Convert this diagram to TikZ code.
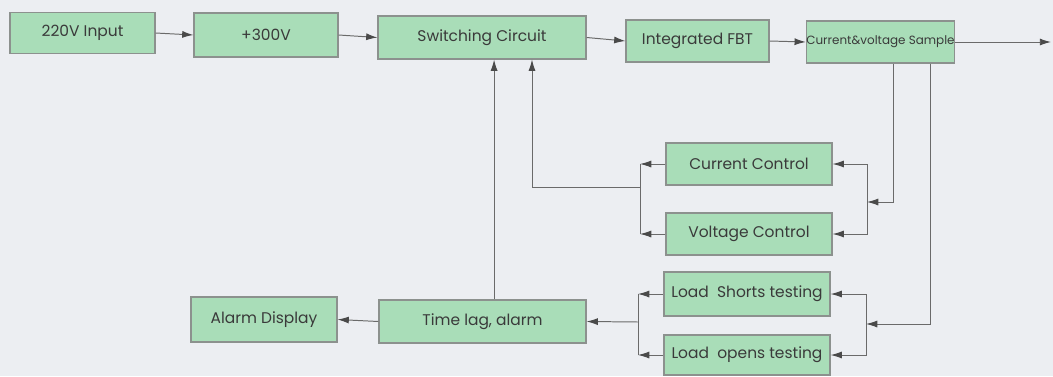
\documentclass[tikz,border=0pt]{standalone}
\usepackage{fontspec}
\setmainfont{Poppins}
\usetikzlibrary{arrows.meta}
\definecolor{bgpaper}{HTML}{ECEEF2}
\definecolor{boxfill}{HTML}{A9DDB8}
\definecolor{boxline}{HTML}{8C918E}
\definecolor{wire}{HTML}{6A6A6A}
\definecolor{tipink}{HTML}{4A4A4A}
\definecolor{ink}{HTML}{3A3A3A}
\tikzset{
    block/.style={draw=boxline, fill=boxfill, line width=0.8pt, inner sep=0pt,
        text=ink, font=\fontsize{11}{12}\selectfont},
    wireline/.style={draw=wire, line width=0.7pt},
    arr/.style={wireline, -{Latex[length=8pt,width=5pt,color=tipink,fill=tipink]}}
}
\begin{document}
\begin{tikzpicture}[x=0.025cm, y=-0.025cm]
            \path[fill=bgpaper, use as bounding box]
                (0, 0) rectangle (1053, 376);
            % top row
            \node[block, minimum width=3.625cm, minimum height=1.025cm] (inp) at (82.5, 33) {220V Input};
            \node[block, minimum width=3.6cm, minimum height=1.1cm] (dc) at (266, 35) {+300V};
            \node[block, minimum width=5.2cm, minimum height=1.075cm] (sw) at (482, 37.5) {Switching Circuit};
            \node[block, minimum width=3.575cm, minimum height=1.05cm] (fbt) at (697.5, 41) {Integrated FBT};
            \node[block, minimum width=3.575cm, minimum height=1.05cm, font=\fontsize{8.5}{10}\selectfont] (smp) at (880.5, 42) {Current\&voltage Sample};
            \coordinate (out) at (1051, 42);
            % control blocks
            \node[block, minimum width=4.15cm, minimum height=1.05cm] (cc) at (749, 164) {Current Control};
            \node[block, minimum width=4.15cm, minimum height=1.05cm] (vc) at (749, 234) {Voltage Control};
            \node[block, minimum width=4.15cm, minimum height=1.1cm] (ls) at (747, 294) {Load\ \ Shorts testing};
            \node[block, minimum width=4.15cm, minimum height=1.0cm] (lo) at (747, 355) {Load\ \ opens testing};
            \node[block, minimum width=5.175cm, minimum height=1.075cm] (tl) at (482.5, 321.5) {Time lag, alarm};
            \node[block, minimum width=3.65cm, minimum height=1.125cm] (ad) at (264, 319.5) {Alarm Display};
            % bends
            \coordinate (s1) at (893, 0);
            \coordinate (s2) at (930, 0);
            \coordinate (j1) at (867, 202);
            \coordinate (j2) at (640, 187);
            \coordinate (f1) at (532, 187);
            \coordinate (j3) at (866, 324);
            \coordinate (j4) at (638, 322);
            % forward path
            \draw[arr] (inp.east) -- (dc.west);
            \draw[arr] (dc.east) -- (sw.west);
            \draw[arr] (sw.east) -- (fbt.west);
            \draw[arr] (fbt.east) -- (smp.west);
            \draw[arr] (smp.east) -- (out);
            % voltage / current feedback
            \draw[arr] (smp.south -| s1) |- (j1);
            \draw[arr] (j1) |- (cc.east);
            \draw[arr] (j1) |- (vc.east);
            \draw[arr] (cc.west) -- (cc.west -| j2);
            \draw[arr] (vc.west) -- (vc.west -| j2);
            \draw[wireline] (cc.west -| j2) -- (vc.west -| j2);
            \draw[arr] (j2) -- (f1) -- (f1 |- sw.south);
            % load testing
            \draw[arr] (smp.south -| s2) |- (j3);
            \draw[arr] (j3) |- (ls.east);
            \draw[arr] (j3) |- (lo.east);
            \draw[arr] (ls.west) -- (ls.west -| j4);
            \draw[arr] (lo.west) -- (lo.west -| j4);
            \draw[wireline] (ls.west -| j4) -- (lo.west -| j4);
            \draw[arr] (j4) -- (tl.east);
            \draw[arr] (tl.west) -- (ad.east);
            \draw[arr] ([xshift=0.29cm]tl.north) -- ([xshift=0.29cm]tl.north |- sw.south);
        \end{tikzpicture}
\end{document}
